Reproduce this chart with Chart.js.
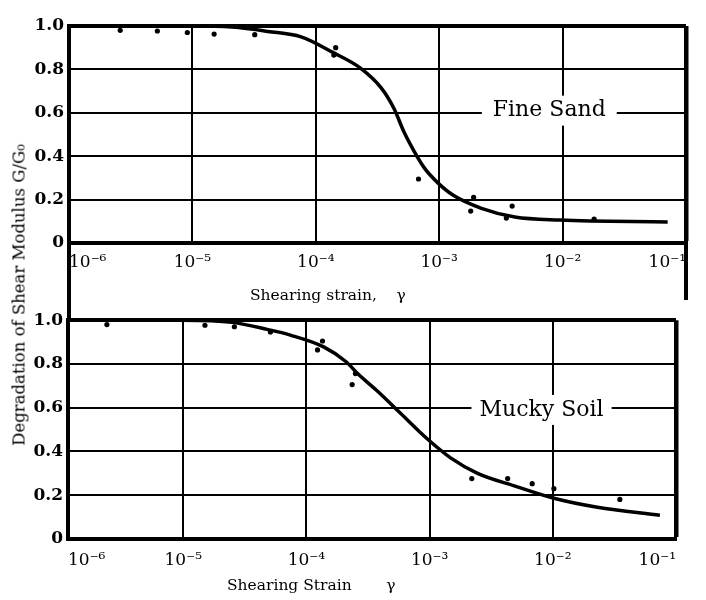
<!DOCTYPE html>
<html>
<head>
<meta charset="utf-8">
<script src="https://cdn.jsdelivr.net/npm/chart.js@4/dist/chart.umd.min.js"></script>
<style>
  body { margin: 0; background: #fff; }
  #wrap { position: relative; width: 706px; height: 600px; background: #fff; font-family: "DejaVu Serif", serif; color: #000; }
  #wrap canvas { position: absolute; left: 0; }
  .ytitle { position: absolute; left: 19px; top: 295px; transform: translate(-50%, -50%) rotate(-90deg); white-space: nowrap; font-size: 16.5px; }
  .xtitle { position: absolute; white-space: nowrap; font-size: 15.5px; }
  .rule { position: absolute; background: #000; }
</style>
</head>
<body>
<div id="wrap">
  <canvas id="fineSand" width="706" height="305" style="top:0"></canvas>
  <canvas id="muckySoil" width="706" height="295" style="top:305px"></canvas>
  <div class="rule" style="left:67px; top:240px; width:4px; height:82px;"></div>
  <div class="rule" style="left:684px; top:240px; width:4px; height:60px;"></div>
  <div class="ytitle">Degradation of Shear Modulus G/G₀</div>
  <div class="xtitle" style="left:250px; top:286px;">Shearing strain,&nbsp;&nbsp;&nbsp;&nbsp;γ</div>
  <div class="xtitle" style="left:227px; top:576px;">Shearing Strain&nbsp;&nbsp;&nbsp;&nbsp;&nbsp;&nbsp;&nbsp;γ</div>
</div>
<script>
// values (strain, G/G0)

const strainTicksTop = [1e-6, 1e-5, 1e-4, 1e-3, 1e-2, 1e-1];
const strainTicksBottom = [1.16e-6, 1e-5, 1e-4, 1e-3, 1e-2, 1e-1];
const strainTickLabels = ["10⁻⁶", "10⁻⁵", "10⁻⁴", "10⁻³", "10⁻²", "10⁻¹"];

const ratioTicks = [0, 0.2, 0.4, 0.6, 0.8, 1.0];
const ratioTickLabels = ["0", "0.2", "0.4", "0.6", "0.8", "1.0"];

const sandCurveStrain = [1e-6, 1e-5, 2.1e-5, 4.1e-5, 7.6e-5, 1.4e-4, 2.3e-4, 3.4e-4, 4.3e-4, 5.2e-4, 6.3e-4, 7.6e-4, 9.8e-4, 1.3e-3, 2.2e-3, 4.1e-3, 9.5e-3, 7.1e-2];
const sandCurveRatio = [1.0, 1.0, 0.995, 0.975, 0.95, 0.876, 0.806, 0.714, 0.62, 0.51, 0.42, 0.345, 0.276, 0.22, 0.16, 0.12, 0.106, 0.097];

const sandTestStrain = [2.6e-6, 5.2e-6, 9.1e-6, 1.5e-5, 3.2e-5, 1.45e-4, 1.4e-4, 6.8e-4, 1.9e-3, 1.8e-3, 3.9e-3, 3.5e-3, 1.8e-2];
const sandTestRatio = [0.98, 0.977, 0.97, 0.963, 0.96, 0.90, 0.866, 0.295, 0.21, 0.147, 0.17, 0.115, 0.11];

const muckCurveStrain = [1.16e-6, 1e-5, 2.5e-5, 4.8e-5, 7.4e-5, 1.38e-4, 2.1e-4, 2.6e-4, 3.8e-4, 5.8e-4, 9.6e-4, 1.48e-3, 2.45e-3, 4.8e-3, 1.02e-2, 2.3e-2, 7.4e-2];
const muckCurveRatio = [1.0, 1.0, 0.99, 0.958, 0.932, 0.878, 0.81, 0.756, 0.674, 0.575, 0.457, 0.371, 0.30, 0.244, 0.186, 0.145, 0.109];

const muckTestStrain = [2.4e-6, 1.5e-5, 2.6e-5, 5.1e-5, 1.23e-4, 1.35e-4, 2.35e-4, 2.5e-4, 2.2e-3, 4.3e-3, 6.8e-3, 1.02e-2, 3.5e-2];
const muckTestRatio = [0.98, 0.977, 0.97, 0.946, 0.864, 0.905, 0.706, 0.756, 0.276, 0.276, 0.253, 0.23, 0.181];

const FONT = "DejaVu Serif";

function pairs(xs, ys) {
    return xs.map((x, i) => ({ x, y: ys[i] }));
}

// soil name sitting on a gridline, with a white box cutting the grid
const curveLabel = {
    id: "curveLabel",
    afterDatasetsDraw(chart, args, opts) {
        const { ctx, scales } = chart;
        const px = scales.x.getPixelForValue(opts.x);
        const py = scales.y.getPixelForValue(opts.y);
        ctx.save();
        ctx.font = opts.font;
        const w = ctx.measureText(opts.text).width;
        ctx.fillStyle = "#fff";
        ctx.fillRect(px - w / 2 - opts.pad, py - opts.boxHeight / 2, w + opts.pad * 2, opts.boxHeight);
        ctx.fillStyle = "#000";
        ctx.textAlign = "center";
        ctx.textBaseline = "middle";
        ctx.fillText(opts.text, px, py);
        ctx.restore();
    }
};

function makePanel(id, o) {

    const xMin = o.ticks[0];
    const xMax = o.ticks[o.ticks.length - 1];

    return new Chart(document.getElementById(id), {
        type: "scatter",
        data: {
            datasets: [{
                data: pairs(o.curveX, o.curveY),
                showLine: true,
                borderColor: "#000",
                borderWidth: 3.5,
                pointRadius: 0,
                cubicInterpolationMode: "monotone"
            }, {
                data: pairs(o.testX, o.testY),
                showLine: false,
                pointRadius: 2.6,
                pointBackgroundColor: "#000",
                pointBorderWidth: 0
            }]
        },
        options: {
            responsive: false,
            animation: false,
            devicePixelRatio: 1,
            layout: { padding: { top: o.padTop, right: o.padRight, left: 0, bottom: 0 } },
            plugins: {
                legend: { display: false },
                tooltip: { enabled: false },
                curveLabel: o.label
            },
            scales: {
                x: {
                    type: "logarithmic",
                    min: xMin,
                    max: xMax,
                    afterBuildTicks: s => { s.ticks = o.ticks.map(v => ({ value: v })); },
                    afterFit: s => { s.height = o.xHeight; },
                    border: { color: "#000", width: 4 },
                    grid: {
                        color: "#000",
                        drawTicks: false,
                        lineWidth: c => (c.tick && c.tick.value === xMax ? 4.5 : 2)
                    },
                    ticks: {
                        align: "inner",
                        padding: o.xPad,
                        color: "#000",
                        font: { family: FONT, size: 17 },
                        callback: (v, i) => strainTickLabels[i]
                    }
                },
                y: {
                    min: 0,
                    max: 1,
                    afterBuildTicks: s => { s.ticks = ratioTicks.map(v => ({ value: v })); },
                    afterFit: s => { s.width = o.yWidth; },
                    border: { color: "#000", width: 4 },
                    grid: {
                        color: "#000",
                        drawTicks: false,
                        lineWidth: c => (c.tick && c.tick.value === 1 ? 4 : 2)
                    },
                    ticks: {
                        padding: 5,
                        color: "#000",
                        font: { family: FONT, size: 17, weight: "bold" },
                        callback: (v, i) => ratioTickLabels[i]
                    }
                }
            }
        },
        plugins: [curveLabel]
    });

}

makePanel("fineSand", {
    ticks: strainTicksTop,
    curveX: sandCurveStrain, curveY: sandCurveRatio,
    testX: sandTestStrain, testY: sandTestRatio,
    padTop: 26, padRight: 20, xHeight: 62, yWidth: 69, xPad: 9,
    label: { text: "Fine Sand", x: 7.8e-3, y: 0.61, font: "22px " + FONT, pad: 11, boxHeight: 30 }
});

makePanel("muckySoil", {
    ticks: strainTicksBottom,
    curveX: muckCurveStrain, curveY: muckCurveRatio,
    testX: muckTestStrain, testY: muckTestRatio,
    padTop: 13, padRight: 30, xHeight: 61, yWidth: 68, xPad: 11,
    label: { text: "Mucky Soil", x: 8.1e-3, y: 0.59, font: "22px " + FONT, pad: 8, boxHeight: 30 }
});
</script>
</body>
</html>
